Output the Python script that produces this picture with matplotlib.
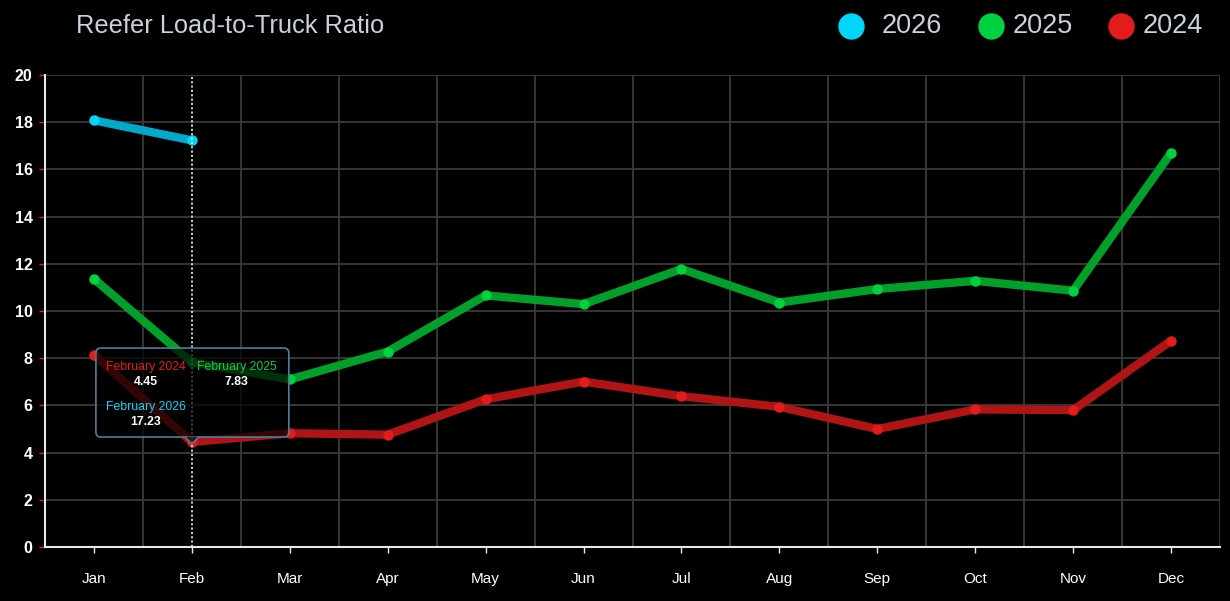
import matplotlib
matplotlib.use("Agg")
import matplotlib.pyplot as plt
from matplotlib.patches import FancyBboxPatch, Polygon
from matplotlib.lines import Line2D

# Data
months = ["Jan", "Feb", "Mar", "Apr", "May", "Jun", "Jul", "Aug", "Sep", "Oct", "Nov", "Dec"]
ratio_2026 = [18.08, 17.23]
ratio_2025 = [11.36, 7.83, 7.10, 8.28, 10.66, 10.29, 11.78, 10.36, 10.93, 11.28, 10.86, 16.70]
ratio_2024 = [8.14, 4.45, 4.82, 4.76, 6.26, 7.01, 6.39, 5.94, 5.00, 5.83, 5.80, 8.74]
years = ["2026", "2025", "2024"]
y_ticks = [0, 2, 4, 6, 8, 10, 12, 14, 16, 18, 20]

line_colors = {"2026": "#00a9c9", "2025": "#00a02b", "2024": "#b01414"}
dot_colors = {"2026": "#00d6f8", "2025": "#00d13f", "2024": "#e41b1b"}
series = {"2026": ratio_2026, "2025": ratio_2025, "2024": ratio_2024}

plt.rcParams["font.family"] = ["Liberation Sans", "DejaVu Sans"]

fig = plt.figure(figsize=(12.3, 6.01), dpi=100, facecolor="black")
ax = fig.add_axes([45 / 1230, 54 / 601, 1175 / 1230, 472 / 601], facecolor="black")

x = list(range(len(months)))

# vertical grid lines sit between months
for b in range(len(months)):
    ax.axvline(b + 0.5, color="#3a3a3a", lw=1.3, zorder=1)
for t in y_ticks[1:]:
    ax.axhline(t, color="#3a3a3a", lw=1.3, zorder=1)

# lines, drawn 2024 first so 2026 stays on top
for yr in ["2024", "2025", "2026"]:
    vals = series[yr]
    xs = x[:len(vals)]
    ax.plot(xs, vals, color=line_colors[yr], lw=6, solid_capstyle="round",
            solid_joinstyle="round", zorder=3)
    ax.plot(xs, vals, "o", color=dot_colors[yr], ms=7.5, mew=0, zorder=4)

# hover line at February
ax.axvline(1, color="#dddddd", lw=1.3, ls=(0, (1.2, 1.2)), zorder=5)

# tooltip box
box = FancyBboxPatch((0.02, 4.66), 1.97, 3.77,
                     boxstyle="round,pad=0,rounding_size=0.05",
                     mutation_aspect=4.2, facecolor=(0, 0, 0, 0.7),
                     edgecolor="#4d7e9c", lw=1.2, zorder=6)
ax.add_patch(box)
notch = Polygon([[0.93, 4.67], [1.0, 4.36], [1.07, 4.67]], closed=False,
                facecolor=(0, 0, 0, 0.7), edgecolor="#4d7e9c", lw=1.2, zorder=6)
ax.add_patch(notch)

tip = [("February 2024", "4.45", 0.53, 7.63, dot_colors["2024"]),
       ("February 2025", "7.83", 1.46, 7.63, dot_colors["2025"]),
       ("February 2026", "17.23", 0.53, 5.93, dot_colors["2026"])]
for name, val, tx, ty, c in tip:
    ax.text(tx, ty, name, color=c, fontsize=8.8, ha="center", va="center", zorder=7)
    ax.text(tx, ty - 0.64, val, color="white", fontsize=8.8, fontweight="bold",
            ha="center", va="center", zorder=7)

ax.set_xlim(-0.5, 11.5)
ax.set_ylim(0, 20)
ax.set_xticks(x)
ax.set_xticklabels(months)
ax.set_yticks(y_ticks)

for s in ["top", "right"]:
    ax.spines[s].set_visible(False)
for s in ["left", "bottom"]:
    ax.spines[s].set_color("#e8e8e8")
    ax.spines[s].set_linewidth(1.5)

ax.tick_params(axis="y", colors="#e31b1b", length=4, width=1, labelcolor="white",
               labelsize=11.5, pad=5)
ax.tick_params(axis="x", colors="#e8e8e8", length=4, width=1, labelcolor="white",
               labelsize=11, pad=14)
for lab in ax.get_yticklabels():
    lab.set_fontweight("bold")

# title and legend
fig.text(76 / 1230, 1 - 26 / 601, "Reefer Load-to-Truck Ratio", color="#c9d1dc",
         fontsize=18.3, ha="left", va="center")
legend_x = [851, 991, 1121]
text_x = [882, 1013, 1143]
for yr, lx, tx in zip(years, legend_x, text_x):
    fig.add_artist(Line2D([lx / 1230], [1 - 26 / 601], marker="o", ms=19, mew=0,
                          color=dot_colors[yr], transform=fig.transFigure))
    fig.text(tx / 1230, 1 - 26 / 601, yr, color="#c9d1dc", fontsize=19.5,
             ha="left", va="center")

fig.savefig("out.png", dpi=100, facecolor="black")
